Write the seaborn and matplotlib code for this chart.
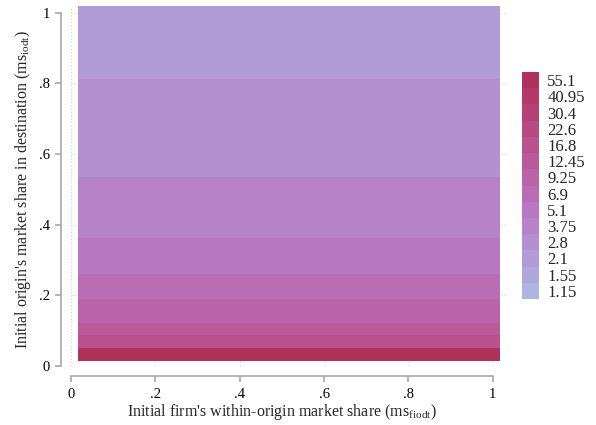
import numpy as np
import seaborn as sns
import matplotlib
matplotlib.use("Agg")
import matplotlib.pyplot as plt
from matplotlib.colors import ListedColormap, BoundaryNorm

# legend levels (top to bottom as in the key) and their colours
levels = [55.1, 40.95, 30.4, 22.6, 16.8, 12.45, 9.25, 6.9, 5.1, 3.75, 2.8, 2.1, 1.55, 1.15]
level_colors = ["#AE3259", "#B33A68", "#B64275", "#B84A82", "#BA528F", "#BB5A9B",
                "#BB63A8", "#B96DB5", "#B877C0", "#B683C9", "#B48FD2", "#B19CD8",
                "#AFA8DD", "#ADB5E2"]

# horizontal bands (y edges, bottom to top) and band level
x_edges = [0.017, 1.017]
y_edges = [0.014, 0.051, 0.088, 0.121, 0.189, 0.26, 0.361, 0.534, 0.811, 1.018]
band_level = [55.1, 16.8, 12.45, 9.25, 6.9, 5.1, 3.75, 2.8, 2.1]

tick_vals = [0, 0.2, 0.4, 0.6, 0.8, 1]
tick_labels = ["0", ".2", ".4", ".6", ".8", "1"]

sns.set_theme(style="white")
plt.rcParams["font.family"] = ["Liberation Serif", "DejaVu Serif"]
plt.rcParams["mathtext.fontset"] = "custom"
plt.rcParams["mathtext.rm"] = "Liberation Serif"

# colour index of each band in the key (0 = bottom of the key)
asc_levels = levels[::-1]
asc_colors = level_colors[::-1]
band_idx = np.array([asc_levels.index(v) for v in band_level], dtype=float).reshape(-1, 1)

cmap = ListedColormap(asc_colors)
norm = BoundaryNorm(np.arange(len(asc_levels) + 1), cmap.N)

fig = plt.figure(figsize=(5.96, 4.25), dpi=100)
ax = fig.add_axes([0.1191, 0.1388, 0.7324, 0.848])

ax.pcolormesh(x_edges, y_edges, band_idx, cmap=cmap, norm=norm, zorder=2)

ax.set_xlim(0, 1.035)
ax.set_ylim(0, 1.02)
ax.set_xticks(tick_vals)
ax.set_xticklabels(tick_labels)
ax.set_yticks(tick_vals)
ax.set_yticklabels(tick_labels)
ax.grid(True, color="#CFCFCF", linestyle=(0, (1, 2)), linewidth=0.8, zorder=0)
ax.set_axisbelow(True)

sns.despine(ax=ax, offset=7)
for s in ["left", "bottom"]:
    ax.spines[s].set_color("#A8A8A8")
    ax.spines[s].set_linewidth(1.2)
    ax.spines[s].set_bounds(0, 1)
ax.tick_params(axis="both", which="both", direction="out", length=4, width=1.2,
               color="#A8A8A8", labelsize=10.5, labelcolor="black",
               left=True, bottom=True)
ax.tick_params(axis="x", pad=5)
ax.tick_params(axis="y", pad=4)

ax.set_xlabel(r"Initial firm's within-origin market share (ms$_{\rm fiodt}$)",
              fontsize=11.5)
ax.set_ylabel(r"Initial origin's market share in destination (ms$_{\rm iodt}$)",
              fontsize=11.5)
ax.xaxis.set_label_coords(0.483, -0.1)
ax.yaxis.set_label_coords(-0.086, 0.49)

# key
cax = fig.add_axes([0.876, 0.2965, 0.0285, 0.534])
sm = plt.cm.ScalarMappable(cmap=cmap, norm=norm)
cb = fig.colorbar(sm, cax=cax, ticks=np.arange(len(asc_levels)) + 0.5)
cb.ax.minorticks_off()
cb.ax.set_yticklabels([str(v) for v in asc_levels])
cb.outline.set_visible(False)
cb.ax.tick_params(which="both", length=0, width=0, pad=6, labelsize=12)

fig.savefig("out.png", dpi=100)
